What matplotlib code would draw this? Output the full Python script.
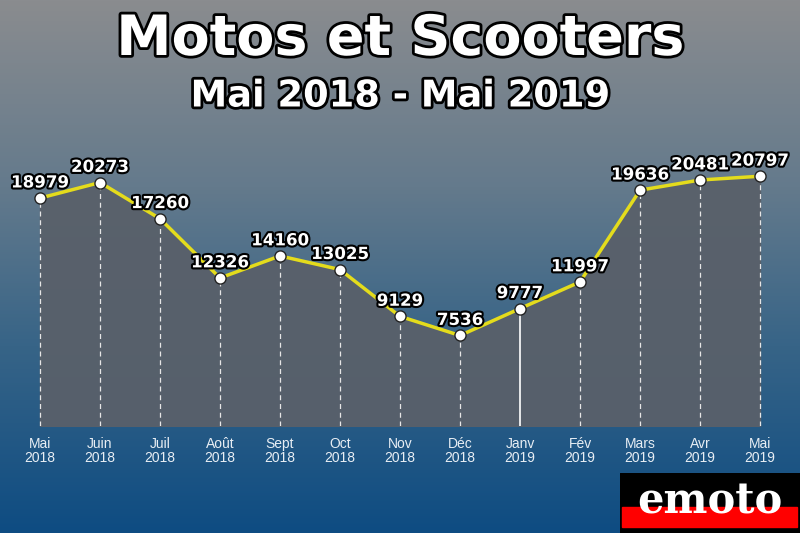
import numpy as np
import matplotlib
matplotlib.use("Agg")
import matplotlib.pyplot as plt
import matplotlib.patheffects as pe
from matplotlib.patches import Rectangle

months = ["Mai", "Juin", "Juil", "Août", "Sept", "Oct", "Nov", "Déc",
          "Janv", "Fév", "Mars", "Avr", "Mai"]
years = ["2018"] * 8 + ["2019"] * 5
values = [18979, 20273, 17260, 12326, 14160, 13025, 9129, 7536,
          9777, 11997, 19636, 20481, 20797]
highlight = 8  # Janv 2019

fig = plt.figure(figsize=(8, 5.33), dpi=100)

# background gradient, gray at top to blue at bottom
bg = fig.add_axes([0, 0, 1, 1])
bg.axis("off")
stops = np.array([[0.00, 138, 140, 143],
                  [0.35, 100, 122, 140],
                  [0.65, 55, 100, 135],
                  [1.00, 14, 76, 130]])
t = np.linspace(0, 1, 256)
grad = np.stack([np.interp(t, stops[:, 0], stops[:, i]) for i in (1, 2, 3)], axis=1) / 255
bg.imshow(grad[:, None, :], aspect="auto", extent=[0, 1, 0, 1])
bg.set_xlim(0, 1)
bg.set_ylim(0, 1)

ax = fig.add_axes([0, 1 - 426 / 533, 1, 276 / 533])
ax.patch.set_alpha(0)
x = np.arange(len(values))
ax.set_xlim(-40 / 60, len(values) - 1 + 40 / 60)
ax.set_ylim(0, 22981)

ax.fill_between(x, values, 0, color="#59606a", alpha=0.95, zorder=1)
for i, v in enumerate(values):
    if i == highlight:
        ax.plot([i, i], [0, v], color="white", lw=1.2, zorder=2)
    else:
        ax.plot([i, i], [0, v], color="#e6e6e6", lw=0.9, ls=(0, (4, 3)), zorder=2)
ax.plot(x, values, color="#e4dc1c", lw=2.5, zorder=3)
ax.plot(x, values, "o", ms=8, mfc="white", mec="#222222", mew=1.0, zorder=4)

outline = [pe.withStroke(linewidth=3, foreground="black")]
for i, v in enumerate(values):
    ax.text(i, v + 550, f"{v}", ha="center", va="bottom", color="white",
            fontsize=12, fontweight="bold", path_effects=outline, zorder=5)

ax.set_xticks(x)
ax.set_xticklabels([f"{m}\n{y}" for m, y in zip(months, years)],
                   color="#e8eef4", fontsize=10, family="Liberation Sans",
                   linespacing=1.0)
ax.tick_params(axis="x", length=0, pad=8)
ax.set_yticks([])
for s in ax.spines.values():
    s.set_visible(False)

title_fx = [pe.withStroke(linewidth=4, foreground="black")]
fig.text(0.5, 1 - 40 / 533, "Motos et Scooters", ha="center", va="center",
         color="white", fontsize=40, fontweight="bold", path_effects=title_fx)
fig.text(0.5, 1 - 96 / 533, "Mai 2018 - Mai 2019", ha="center", va="center",
         color="white", fontsize=26.5, fontweight="bold", path_effects=title_fx)

# emoto logo
logo = fig.add_axes([620 / 800, 0, 180 / 800, 60 / 533])
logo.set_xlim(0, 180)
logo.set_ylim(0, 60)
logo.axis("off")
logo.add_patch(Rectangle((0, 0), 180, 60, color="black"))
logo.add_patch(Rectangle((2, 6), 175, 20, color="#ff0000"))
logo.text(90, 31, "emoto", ha="center", va="center", color="white",
          fontsize=30, fontweight="bold", family="DejaVu Serif")

fig.savefig("out.png", dpi=100)
